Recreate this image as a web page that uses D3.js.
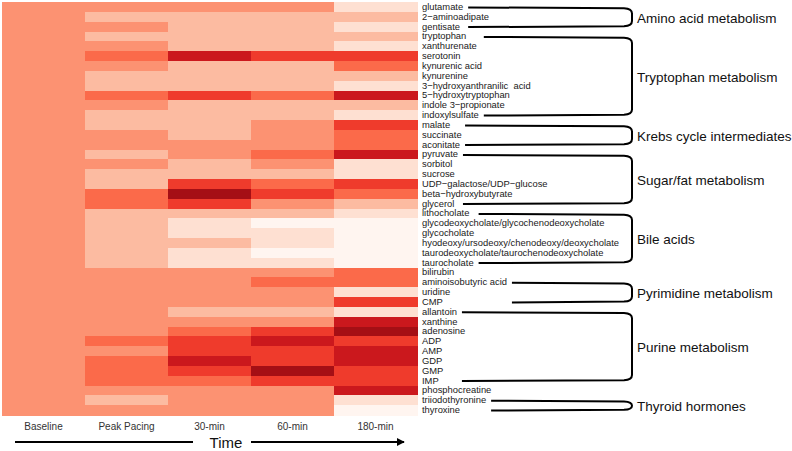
<!DOCTYPE html>
<html>
<head>
<meta charset="utf-8">
<script src="https://cdn.jsdelivr.net/npm/d3@7"></script>
<style>
  html, body { margin: 0; padding: 0; background: #fff; }
  svg { display: block; font-family: "Liberation Sans", Arial, sans-serif; }
</style>
</head>
<body>
<svg id="chart" width="792" height="451"></svg>
<script>
// ---------------- data ----------------
const timepoints = ["Baseline", "Peak Pacing", "30-min", "60-min", "180-min"];

const metabolites = [
  "glutamate", "2\u2212aminoadipate", "gentisate",
  "tryptophan", "xanthurenate", "serotonin", "kynurenic acid", "kynurenine",
  "3\u2212hydroxyanthranilic  acid", "5\u2212hydroxytryptophan", "indole 3\u2212propionate", "indoxylsulfate",
  "malate", "succinate", "aconitate",
  "pyruvate", "sorbitol", "sucrose", "UDP\u2212galactose/UDP\u2212glucose", "beta\u2212hydroxybutyrate", "glycerol",
  "lithocholate", "glycodeoxycholate/glycochenodeoxycholate", "glycocholate",
  "hyodeoxy/ursodeoxy/chenodeoxy/deoxycholate", "taurodeoxycholate/taurochenodeoxycholate", "taurocholate",
  "bilirubin", "aminoisobutyric acid", "uridine", "CMP",
  "allantoin", "xanthine", "adenosine", "ADP", "AMP", "GDP", "GMP", "IMP",
  "phosphocreatine", "triiodothyronine", "thyroxine"
];

// colour level (0 = lowest ... 7 = highest), baseline = 3
const baseline = [3,3,3,3,3,3,3,3,3,3,3,3,3,3,3,3,3,3,3,3,3,3,3,3,3,3,3,3,3,3,3,3,3,3,3,3,3,3,3,3,3,3];
const peakPacing = [3,2,3,2,3,4,3,2,2,4,3,2,2,3,3,2,3,2,2,4,4,2,2,2,2,2,2,3,3,3,3,3,3,3,4,3,4,4,4,3,2,3];
const min30 = [3,2,2,2,2,6,2,2,2,5,2,2,2,2,3,3,2,2,5,7,5,2,1,1,2,1,1,3,3,3,3,2,3,4,5,5,6,5,4,3,3,3];
const min60 = [3,2,2,2,2,5,2,2,2,4,2,2,3,3,3,4,3,2,4,5,3,2,0,1,1,0,1,3,4,3,3,2,3,5,6,5,5,7,5,3,3,3];
const min180 = [1,2,1,2,1,5,4,2,1,6,2,1,5,4,4,6,1,1,5,4,2,1,0,0,0,0,0,4,4,1,5,1,6,7,5,6,6,5,5,6,1,0];

const groupNames = ["Amino acid metabolism", "Tryptophan metabolism", "Krebs cycle intermediates",
  "Sugar/fat metabolism", "Bile acids", "Pyrimidine metabolism", "Purine metabolism", "Thyroid hormones"];
const groupFirst = ["glutamate", "tryptophan", "malate", "pyruvate", "lithocholate", "aminoisobutyric acid", "allantoin", "triiodothyronine"];
const groupLast = ["gentisate", "indoxylsulfate", "aconitate", "glycerol", "taurocholate", "CMP", "IMP", "thyroxine"];

const axisTitle = "Time";

// ---------------- layout ----------------
const svg = d3.select("#chart");
const mLeft = 2, mRight = 417, mTop = 2, mBottom = 415;

const x = d3.scaleBand().domain(timepoints).range([mLeft, mRight]).padding(0);
const y = d3.scaleBand().domain(metabolites).range([mTop, mBottom]).padding(0);

const color = d3.scaleOrdinal().domain(d3.range(9)).range(d3.schemeReds[9]);

const series = [baseline, peakPacing, min30, min60, min180];
const cells = [];
series.forEach((vals, j) => vals.forEach((v, i) => cells.push({t: timepoints[j], m: metabolites[i], v})));

svg.append("g").selectAll("rect").data(cells).join("rect")
  .attr("x", d => x(d.t))
  .attr("y", d => y(d.m))
  .attr("width", x.bandwidth() + 0.5)
  .attr("height", y.bandwidth() + 0.5)
  .attr("fill", d => color(d.v))
  .attr("shape-rendering", "crispEdges");

// row labels
const yAxis = svg.append("g")
  .attr("transform", `translate(${mRight},0)`)
  .call(d3.axisRight(y).tickSize(0).tickPadding(5));
yAxis.select(".domain").remove();
yAxis.selectAll("text")
  .attr("font-size", 9.4)
  .attr("font-family", "Liberation Sans, Arial, sans-serif")
  .attr("fill", "#1a1a1a")
  .style("white-space", "pre");

// column labels
const xAxis = svg.append("g")
  .attr("transform", `translate(0,${mBottom})`)
  .call(d3.axisBottom(x).tickSize(0).tickPadding(8));
xAxis.select(".domain").remove();
xAxis.selectAll("text")
  .attr("font-size", 10)
  .attr("font-family", "Liberation Sans, Arial, sans-serif")
  .attr("fill", "#333");

// time arrow
const arrowY = 442;
svg.append("defs").append("marker")
  .attr("id", "ah").attr("viewBox", "0 0 10 10").attr("refX", 9).attr("refY", 5)
  .attr("markerWidth", 4).attr("markerHeight", 4).attr("orient", "auto")
  .append("path").attr("d", "M0,0 L10,5 L0,10 Z").attr("fill", "#000");
svg.append("line").attr("x1", 15).attr("x2", 193).attr("y1", arrowY).attr("y2", arrowY)
  .attr("stroke", "#000").attr("stroke-width", 2);
svg.append("line").attr("x1", 251).attr("x2", 404).attr("y1", arrowY).attr("y2", arrowY)
  .attr("stroke", "#000").attr("stroke-width", 2).attr("marker-end", "url(#ah)");
svg.append("text").attr("x", 226).attr("y", arrowY + 5.5).attr("text-anchor", "middle")
  .attr("font-size", 15).attr("fill", "#111").text(axisTitle);

// brackets
const labelEnd = {};
yAxis.selectAll(".tick").each(function(d) {
  const t = d3.select(this).select("text").node();
  labelEnd[d] = mRight + 5 + t.getComputedTextLength();
});
const xv = 632;
groupNames.forEach((g, k) => {
  const a = groupFirst[k], b = groupLast[k];
  const y0 = y(a) + y.bandwidth() / 2 + 0.5;
  const y1 = y(b) + y.bandwidth() / 2 + 0.5;
  const x0 = Math.max(labelEnd[a], labelEnd[b]) + 5;
  const r = Math.min(6, (y1 - y0) / 2);
  const p = d3.path();
  p.moveTo(x0, y0);
  p.lineTo(xv - 8, y0 + 0.8);
  p.quadraticCurveTo(xv, y0 + 1.2, xv, y0 + r);
  p.lineTo(xv, y1 - r);
  p.quadraticCurveTo(xv, y1 - 1.2, xv - 8, y1 - 0.8);
  p.lineTo(x0, y1);
  svg.append("path").attr("d", p.toString()).attr("fill", "none")
    .attr("stroke", "#000").attr("stroke-width", 2);
  svg.append("text").attr("x", 637).attr("y", (y0 + y1) / 2 + 5.5)
    .attr("font-size", 13.5).attr("fill", "#111").text(g);
});
</script>
</body>
</html>
